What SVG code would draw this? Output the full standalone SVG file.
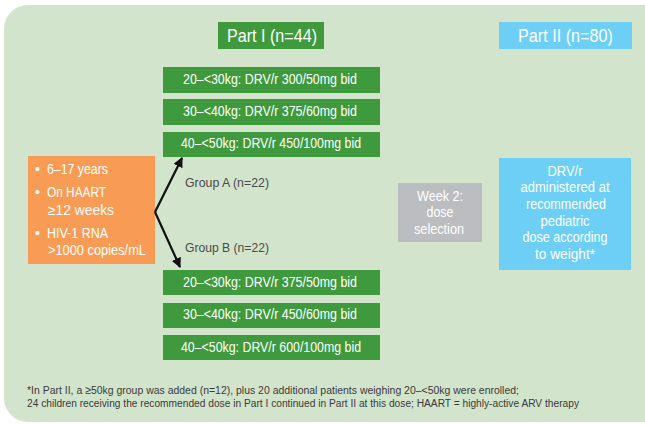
<svg xmlns="http://www.w3.org/2000/svg" width="645" height="426" viewBox="0 0 645 426">
<defs>
<style>
text{font-family:"Liberation Sans",Arial,sans-serif}
.dose{fill:#3e9a3c}
.dt{fill:#ffffff;font-size:14px;text-anchor:middle}
.hd{fill:#ffffff;font-size:18px}
.g{fill:#4a4a4a;font-size:13.5px}
.ot{fill:#ffffff;font-size:14px}
.ct{fill:#ffffff;font-size:14px;text-anchor:middle}
.fn{fill:#3a3a3a;font-size:11.5px}
.conn{stroke:#111111;stroke-width:2.2;fill:none}
</style>
<marker id="ah" viewBox="0 0 10 10" refX="9" refY="5" markerWidth="4.5" markerHeight="4.5" orient="auto" markerUnits="strokeWidth">
<path d="M0,0 L10,5 L0,10 z" fill="#111111"/>
</marker>
</defs>
<rect x="0" y="0" width="645" height="426" fill="#ffffff"/>
<rect id="background" x="4" y="5" width="664" height="417" rx="24" fill="#d2e4cb"/>

<g id="part1-header">
<rect x="218" y="22" width="106" height="27" class="dose"/>
<text x="227" y="42" class="hd" textLength="90" lengthAdjust="spacingAndGlyphs">Part I (n=44)</text>
</g>
<g id="part2-header">
<rect x="499" y="22" width="133" height="27" fill="#6dcff6"/>
<text x="518" y="42" class="hd" textLength="95" lengthAdjust="spacingAndGlyphs">Part II (n=80)</text>
</g>

<g id="a1">
<rect x="163" y="67" width="217" height="26" class="dose"/>
<text x="270" y="84" class="dt" textLength="174" lengthAdjust="spacingAndGlyphs">20–&lt;30kg: DRV/r 300/50mg bid</text>
</g>
<g id="a2">
<rect x="163" y="99" width="217" height="26" class="dose"/>
<text x="270" y="116" class="dt" textLength="174" lengthAdjust="spacingAndGlyphs">30–&lt;40kg: DRV/r 375/60mg bid</text>
</g>
<g id="a3">
<rect x="163" y="132" width="217" height="25" class="dose"/>
<text x="271" y="148" class="dt" textLength="180" lengthAdjust="spacingAndGlyphs">40–&lt;50kg: DRV/r 450/100mg bid</text>
</g>

<g id="b1">
<rect x="163" y="270" width="217" height="25" class="dose"/>
<text x="270" y="287" class="dt" textLength="174" lengthAdjust="spacingAndGlyphs">20–&lt;30kg: DRV/r 375/50mg bid</text>
</g>
<g id="b2">
<rect x="163" y="303" width="217" height="25" class="dose"/>
<text x="270" y="319" class="dt" textLength="174" lengthAdjust="spacingAndGlyphs">30–&lt;40kg: DRV/r 450/60mg bid</text>
</g>
<g id="b3">
<rect x="163" y="335" width="217" height="25" class="dose"/>
<text x="271" y="352" class="dt" textLength="180" lengthAdjust="spacingAndGlyphs">40–&lt;50kg: DRV/r 600/100mg bid</text>
</g>

<g id="criteria">
<rect x="28" y="156" width="127" height="108" fill="#f89c55"/>
<text x="35" y="174" class="ot">•</text>
<text x="47" y="174" class="ot" textLength="61" lengthAdjust="spacingAndGlyphs">6–17 years</text>
<text x="35" y="197" class="ot">•</text>
<text x="47" y="197" class="ot" textLength="59" lengthAdjust="spacingAndGlyphs">On HAART</text>
<text x="48" y="215" class="ot" textLength="66" lengthAdjust="spacingAndGlyphs">≥12 weeks</text>
<text x="35" y="238" class="ot">•</text>
<text x="47" y="238" class="ot" textLength="61" lengthAdjust="spacingAndGlyphs">HIV-1 RNA</text>
<text x="48" y="255" class="ot" textLength="98" lengthAdjust="spacingAndGlyphs">&gt;1000 copies/mL</text>
</g>

<g id="week2">
<rect x="398" y="183" width="84" height="59" fill="#bcbdc0"/>
<text x="440" y="201" class="ct" textLength="46" lengthAdjust="spacingAndGlyphs">Week 2:</text>
<text x="440" y="217" class="ct" textLength="27" lengthAdjust="spacingAndGlyphs">dose</text>
<text x="439" y="234" class="ct" textLength="50" lengthAdjust="spacingAndGlyphs">selection</text>
</g>

<g id="part2-box">
<rect x="499" y="158" width="132" height="112" fill="#6dcff6"/>
<text x="565" y="176" class="ct" textLength="35" lengthAdjust="spacingAndGlyphs">DRV/r</text>
<text x="565" y="192" class="ct" textLength="89" lengthAdjust="spacingAndGlyphs">administered at</text>
<text x="566" y="209" class="ct" textLength="80" lengthAdjust="spacingAndGlyphs">recommended</text>
<text x="565" y="226" class="ct" textLength="49" lengthAdjust="spacingAndGlyphs">pediatric</text>
<text x="565" y="242" class="ct" textLength="85" lengthAdjust="spacingAndGlyphs">dose according</text>
<text x="565" y="259" class="ct" textLength="60" lengthAdjust="spacingAndGlyphs">to weight*</text>
</g>

<g id="connectors">
<line x1="155" y1="212" x2="182" y2="158" class="conn" marker-end="url(#ah)"/>
<line x1="155" y1="212" x2="180" y2="267" class="conn" marker-end="url(#ah)"/>
<text x="185" y="187" class="g" textLength="84" lengthAdjust="spacingAndGlyphs">Group A (n=22)</text>
<text x="185" y="252" class="g" textLength="84" lengthAdjust="spacingAndGlyphs">Group B (n=22)</text>
</g>

<g id="footnote">
<text transform="translate(27,394) scale(0.8,1)" x="0" y="0" class="fn" textLength="615" lengthAdjust="spacingAndGlyphs">*In Part II, a ≥50kg group was added (n=12), plus 20 additional patients weighing 20–&lt;50kg were enrolled;</text>
<text transform="translate(27,407) scale(0.8,1)" x="0" y="0" class="fn" textLength="690" lengthAdjust="spacingAndGlyphs">24 children receiving the recommended dose in Part I continued in Part II at this dose; HAART = highly-active ARV therapy</text>
</g>
</svg>
